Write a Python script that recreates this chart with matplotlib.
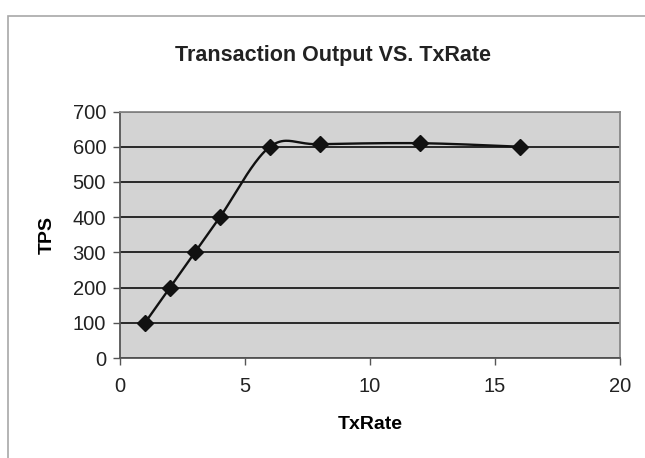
import matplotlib
matplotlib.use("Agg")
import matplotlib.pyplot as plt
import numpy as np
from matplotlib.patches import Rectangle

tx_rate = [1, 2, 3, 4, 6, 8, 12, 16]
tps = [100, 200, 300, 400, 600, 607, 610, 600]
x_ticks = [0, 5, 10, 15, 20]
y_ticks = [0, 100, 200, 300, 400, 500, 600, 700]


def smooth_curve(xs, ys, ax, n=40):
    """Excel-style smoothed line: cubic Bezier segments with 1/6 tangents,
    built in display space so the curve shape matches the drawn axes."""
    pts = ax.transData.transform(np.column_stack([xs, ys]))
    out = [pts[0]]
    t = np.linspace(0, 1, n)[1:, None]
    for i in range(len(pts) - 1):
        p0 = pts[max(i - 1, 0)]
        p1, p2 = pts[i], pts[i + 1]
        p3 = pts[min(i + 2, len(pts) - 1)]
        c1 = p1 + (p2 - p0) / 6
        c2 = p2 - (p3 - p1) / 6
        seg = ((1 - t) ** 3) * p1 + 3 * ((1 - t) ** 2) * t * c1 \
            + 3 * (1 - t) * t ** 2 * c2 + t ** 3 * p2
        out.extend(seg)
    out = ax.transData.inverted().transform(np.array(out))
    return out[:, 0], out[:, 1]


plt.rcParams["font.family"] = ["Liberation Sans", "DejaVu Sans"]

fig = plt.figure(figsize=(6.45, 4.58), dpi=100)
fig.patches.append(Rectangle((8 / 645, -0.1), 1.2, 1 - 16 / 458 + 0.1,
                             transform=fig.transFigure, fill=False,
                             edgecolor="#a8a8a8", linewidth=1.2))

ax = fig.add_axes([120 / 645, 1 - 358 / 458, 500 / 645, 246.5 / 458])
ax.set_facecolor("#d3d3d3")
ax.set_xlim(0, 20)
ax.set_ylim(0, 700)
ax.set_xticks(x_ticks)
ax.set_yticks(y_ticks)
ax.grid(axis="y", color="#1a1a1a", linewidth=1.3)
ax.set_axisbelow(True)
for side, sp in ax.spines.items():
    sp.set_color("#555555" if side in ("left", "bottom") else "#888888")
    sp.set_linewidth(1.3)
ax.tick_params(direction="out", length=5, width=1, color="#555555",
               labelsize=14.5, labelcolor="#222222", pad=5)
ax.tick_params(axis="x", pad=9)

sx, sy = smooth_curve(tx_rate, tps, ax)
ax.plot(sx, sy, color="#111111", linewidth=1.7, zorder=3)
ax.plot(tx_rate, tps, linestyle="none", marker="D", markersize=8,
        color="#111111", zorder=4)

ax.set_xlabel("TxRate", fontsize=14, fontweight="bold", labelpad=14)
ax.set_ylabel("TPS", fontsize=14, fontweight="bold", labelpad=12)
fig.text(333 / 645, 1 - 55 / 458, "Transaction Output VS. TxRate",
         ha="center", va="center", fontsize=15.5, fontweight="bold",
         color="#222222")

fig.savefig("out.png", dpi=100)
